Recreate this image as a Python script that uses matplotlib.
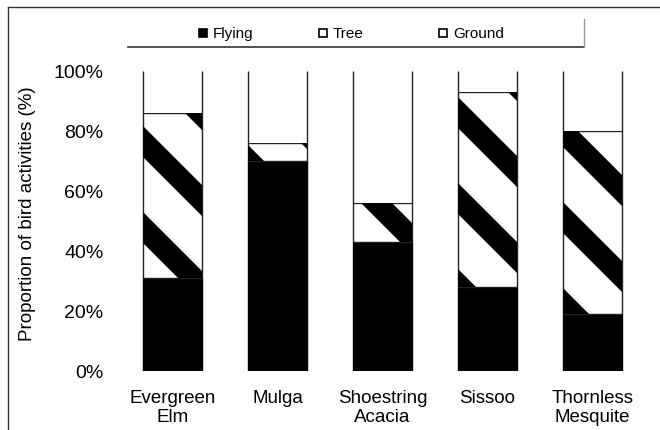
import numpy as np
import matplotlib.pyplot as plt
from matplotlib.patches import Polygon, Rectangle
from matplotlib.lines import Line2D

plt.rcParams['font.family'] = ['Liberation Sans', 'DejaVu Sans']

# data (percent of activities)
trees = ["Evergreen\nElm", "Mulga", "Shoestring\nAcacia", "Sissoo", "Thornless\nMesquite"]
flying = np.array([31, 70, 43, 28, 19])
tree = np.array([55, 6, 13, 65, 61])
ground = np.array([14, 24, 44, 7, 20])

legend_labels = ["Flying", "Tree", "Ground"]
legend_colors = ["black", "white", "white"]

fig = plt.figure(figsize=(6.6, 4.31), dpi=100)
W, H = 660, 431
ax = fig.add_axes([120 / W, 59 / H, 525 / W, 300 / H])

x = np.arange(len(trees))
w = 0.56
edge = "#222222"

ax.bar(x, flying, w, color="black", edgecolor="black", linewidth=1, zorder=2)
tree_bars = ax.bar(x, tree, w, bottom=flying, color="white", edgecolor=edge,
                   linewidth=1, zorder=2)
ax.bar(x, ground, w, bottom=flying + tree, color="white", linewidth=0, zorder=2)
ax.vlines(x - w / 2, flying + tree, 100, color=edge, linewidth=1, zorder=3)
ax.vlines(x + w / 2, flying + tree, 100, color=edge, linewidth=1, zorder=3)

ax.set_xlim(-0.5, 4.5)
ax.set_ylim(0, 100)

# wide diagonal stripes on the Tree segments (pattern in pixel space)
period, thick, phase = 86, 31, -16
inv = ax.transData.inverted()
for bar in tree_bars:
    bb = bar.get_window_extent()
    X0, X1, Y0, Y1 = bb.x0, bb.x1, bb.y0, bb.y1
    umin = (H - Y1) - X1
    umax = (H - Y0) - X0
    kmin = int(np.floor((umin - phase - thick) / period))
    kmax = int(np.ceil((umax - phase) / period))
    Xa, Xb = X0 - 20, X1 + 20
    for k in range(kmin, kmax + 1):
        c = phase + k * period
        pts = np.array([[Xa, H - Xa - c], [Xb, H - Xb - c],
                        [Xb, H - Xb - c - thick], [Xa, H - Xa - c - thick]])
        poly = Polygon(inv.transform(pts), closed=True, facecolor="black",
                       edgecolor="none", zorder=2.5)
        ax.add_patch(poly)
        poly.set_clip_path(bar)

for s in ax.spines.values():
    s.set_visible(False)

ax.set_xticks(x)
ax.set_xticklabels(trees, fontsize=13.5, linespacing=1.15)
ax.tick_params(axis="x", length=0, pad=13)
ax.set_yticks(np.arange(0, 101, 20))
ax.set_yticklabels([f"{v}%" for v in range(0, 101, 20)], fontsize=14)
ax.tick_params(axis="y", which="major", length=0, pad=12)
ax.set_yticks([20, 80], minor=True)
ax.tick_params(axis="y", which="minor", length=5, width=1, color="#555555")

fig.text(28 / W, 1 - 214 / H, "Proportion of bird activities (%)", rotation=90,
         ha="center", va="center", fontsize=13.5)

# legend
for i, (lab, col) in enumerate(zip(legend_labels, legend_colors)):
    lx = 199 + 120 * i
    fig.patches.append(Rectangle((lx / W, 1 - 38 / H), 8 / W, 8 / H,
                                 transform=fig.transFigure, facecolor=col,
                                 edgecolor="black", linewidth=1.2))
    fig.text((lx + 14) / W, 1 - 34 / H, lab, ha="left", va="center", fontsize=11)

fig.lines.append(Line2D([128 / W, 584 / W], [1 - 47.7 / H, 1 - 47.7 / H],
                        transform=fig.transFigure, color="#333333", linewidth=1.2))
fig.lines.append(Line2D([584 / W, 584 / W], [1 - 20 / H, 1 - 47.7 / H],
                        transform=fig.transFigure, color="#999999", linewidth=1))

# outer frame
fig.lines.append(Line2D([8 / W, 1], [1 - 7.5 / H, 1 - 7.5 / H],
                        transform=fig.transFigure, color="#333333", linewidth=1))
fig.lines.append(Line2D([8 / W, 8 / W], [1 - 7.5 / H, 0],
                        transform=fig.transFigure, color="#333333", linewidth=1))

fig.savefig("out.png", dpi=100)
